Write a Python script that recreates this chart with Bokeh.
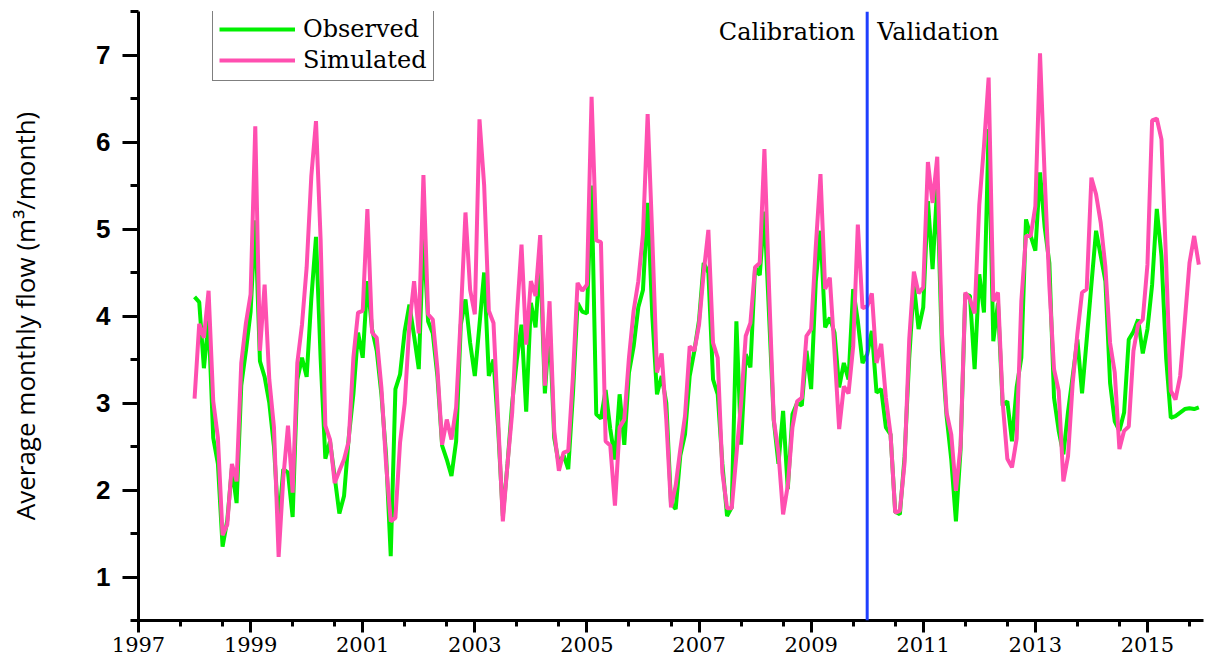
import numpy as np
from bokeh.plotting import figure
from bokeh.models import FixedTicker, Span, Label, Legend, LegendItem, Range1d
from bokeh.embed import file_html
from bokeh.resources import INLINE

# ---------------- data (monthly, Jan 1998 .. Dec 2015) ----------------
start_year = 1998

observed = [
    4.22, 4.16, 3.40, 3.95, 2.60, 2.30, 1.35, 1.65, 2.25, 1.85, 3.20, 3.60,  # 1998
    4.05, 5.10, 3.48, 3.30, 3.00, 2.50, 1.60, 2.24, 2.20, 1.69, 3.27, 3.52,  # 1999
    3.30, 4.20, 4.91, 3.50, 2.36, 2.56, 2.15, 1.73, 1.93, 2.60, 3.10, 3.81,  # 2000
    3.52, 4.40, 3.85, 3.60, 3.10, 2.40, 1.24, 3.16, 3.33, 3.83, 4.13, 3.77,  # 2001
    3.39, 4.95, 3.94, 3.80, 3.30, 2.51, 2.35, 2.16, 2.56, 3.90, 4.19, 3.69,  # 2002
    3.31, 3.90, 4.50, 3.31, 3.50, 2.70, 1.70, 2.30, 3.00, 3.50, 3.90, 2.90,  # 2003
    4.15, 3.87, 4.70, 3.11, 3.90, 2.60, 2.30, 2.40, 2.24, 3.10, 4.15, 4.05,  # 2004
    4.03, 5.50, 2.87, 2.82, 3.15, 2.70, 2.35, 3.10, 2.52, 3.35, 3.65, 4.10,  # 2005
    4.30, 5.30, 4.00, 3.10, 3.31, 3.00, 1.85, 1.78, 2.40, 2.64, 3.31, 3.60,  # 2006
    3.95, 4.61, 4.50, 3.27, 3.10, 2.30, 1.70, 1.80, 3.94, 2.52, 3.56, 3.41,  # 2007
    4.56, 4.47, 5.20, 4.00, 2.80, 2.30, 2.91, 2.01, 2.87, 3.00, 2.97, 3.60,  # 2008
    3.16, 4.40, 4.98, 3.87, 3.98, 3.81, 3.18, 3.46, 3.27, 4.31, 3.94, 3.46,  # 2009
    3.56, 3.83, 3.12, 3.16, 2.72, 2.64, 1.75, 1.72, 2.38, 3.52, 4.36, 3.85,  # 2010
    4.10, 5.32, 4.54, 5.50, 3.60, 2.85, 2.35, 1.64, 2.47, 4.25, 4.23, 3.39,  # 2011
    4.48, 4.04, 6.15, 3.71, 4.15, 2.97, 3.02, 2.56, 3.18, 3.52, 5.11, 4.92,  # 2012
    4.75, 5.65, 5.02, 4.61, 3.06, 2.68, 2.41, 2.90, 3.31, 3.73, 3.11, 3.73,  # 2013
    4.36, 4.98, 4.69, 4.40, 3.23, 2.79, 2.68, 2.89, 3.73, 3.82, 3.96, 3.57,  # 2014
    3.85, 4.36, 5.23, 4.69, 3.52, 2.83, 2.85, 2.89, 2.93, 2.94, 2.93, 2.95,  # 2015
]

simulated = [
    3.05, 3.91, 3.75, 4.29, 3.02, 2.60, 1.48, 1.60, 2.30, 2.10, 3.46, 3.92,  # 1998
    4.25, 6.18, 3.60, 4.36, 3.27, 2.72, 1.23, 2.14, 2.74, 1.97, 3.46, 3.90,  # 1999
    4.56, 5.61, 6.24, 4.86, 2.74, 2.58, 2.08, 2.22, 2.35, 2.56, 3.52, 4.04,  # 2000
    4.06, 5.23, 3.81, 3.75, 3.18, 2.30, 1.64, 1.68, 2.55, 3.00, 3.90, 4.40,  # 2001
    3.80, 5.62, 4.02, 3.96, 3.39, 2.52, 2.81, 2.58, 2.95, 4.00, 5.19, 4.30,  # 2002
    4.02, 6.26, 5.50, 4.06, 3.92, 2.80, 1.64, 2.30, 2.89, 4.00, 4.82, 3.67,  # 2003
    4.40, 4.23, 4.93, 3.20, 4.17, 2.68, 2.22, 2.43, 2.45, 3.30, 4.38, 4.29,  # 2004
    4.36, 6.52, 4.87, 4.85, 2.56, 2.51, 1.82, 2.72, 2.81, 3.52, 4.06, 4.40,  # 2005
    4.94, 6.32, 4.90, 3.35, 3.57, 2.80, 1.80, 2.05, 2.47, 2.85, 3.65, 3.60,  # 2006
    3.90, 4.50, 4.99, 3.69, 3.52, 2.20, 1.79, 1.79, 2.40, 3.00, 3.77, 3.92,  # 2007
    4.56, 4.61, 5.92, 4.30, 2.81, 2.43, 1.72, 2.05, 2.72, 3.02, 3.06, 3.77,  # 2008
    3.85, 4.80, 5.63, 4.31, 4.44, 3.60, 2.70, 3.19, 3.11, 3.65, 5.05, 4.09,  # 2009
    4.11, 4.26, 3.46, 3.68, 3.06, 2.64, 1.74, 1.76, 2.31, 3.73, 4.51, 4.26,  # 2010
    4.33, 5.77, 5.30, 5.83, 3.81, 2.89, 2.64, 1.99, 2.51, 4.27, 4.19, 4.03,  # 2011
    5.28, 5.95, 6.74, 4.17, 4.27, 3.01, 2.36, 2.26, 2.59, 4.17, 4.92, 4.92,  # 2012
    5.26, 7.02, 5.60, 4.35, 3.39, 3.14, 2.10, 2.39, 3.23, 3.80, 4.27, 4.31,  # 2013
    5.59, 5.40, 5.07, 4.56, 3.69, 3.35, 2.47, 2.68, 2.73, 3.60, 3.90, 3.96,  # 2014
    4.59, 6.25, 6.27, 6.03, 4.61, 3.14, 3.04, 3.31, 3.94, 4.61, 4.92, 4.59,  # 2015
]

x_major_ticks = [1997, 1999, 2001, 2003, 2005, 2007, 2009, 2011, 2013, 2015]
x_minor_ticks = [1997.75, 1998.5, 1999.75, 2000.5, 2001.75, 2002.5, 2003.75, 2004.5,
                 2005.75, 2006.5, 2007.75, 2008.5, 2009.75, 2010.5, 2011.75, 2012.5,
                 2013.75, 2014.5, 2015.75]
y_major_ticks = [1, 2, 3, 4, 5, 6, 7]
y_minor_ticks = [0.5, 1.5, 2.5, 3.5, 4.5, 5.5, 6.5, 7.5]
split_year = 2010
series_names = ["Observed", "Simulated"]
period_names = ["Calibration", "Validation"]
y_title = "Average monthly flow (m\u00b3/month)"

months = np.arange(len(observed))
x = start_year + months / 12.0

GREEN = "#00f000"
PINK = "#ff4fb0"
BLUE = "#1f3fff"

p = figure(width=1205, height=662,
           x_range=Range1d(1997, 2016), y_range=Range1d(0.5, 7.5),
           output_backend="svg", toolbar_location=None,
           min_border_left=138, min_border_right=2,
           min_border_top=11, min_border_bottom=42)
p.outline_line_color = None
p.background_fill_color = "white"
p.border_fill_color = "white"
p.xgrid.visible = False
p.ygrid.visible = False

g = p.line(x, observed, line_color=GREEN, line_width=4)
s = p.line(x, simulated, line_color=PINK, line_width=4)

p.add_layout(Span(location=split_year, dimension="height",
                  line_color=BLUE, line_width=3))

# axes
xa = p.xaxis[0]
xa.ticker = FixedTicker(ticks=x_major_ticks, minor_ticks=x_minor_ticks)
xa.axis_line_width = 3
xa.axis_line_color = "black"
xa.major_tick_line_width = 3
xa.minor_tick_line_width = 3
xa.major_tick_out = 12
xa.major_tick_in = 0
xa.minor_tick_out = 6
xa.minor_tick_in = 0
xa.major_label_text_font = "DejaVu Serif"
xa.major_label_text_font_size = "21px"
xa.major_label_text_color = "black"
xa.major_label_standoff = 4

ya = p.yaxis[0]
ya.ticker = FixedTicker(ticks=y_major_ticks, minor_ticks=y_minor_ticks)
ya.axis_line_width = 3
ya.axis_line_color = "black"
ya.major_tick_line_width = 3
ya.minor_tick_line_width = 3
ya.major_tick_out = 16
ya.major_tick_in = 0
ya.minor_tick_out = 8
ya.minor_tick_in = 0
ya.major_label_text_font = "Liberation Sans"
ya.major_label_text_font_size = "26px"
ya.major_label_text_font_style = "bold"
ya.major_label_text_color = "black"
ya.major_label_standoff = 12
ya.axis_label = y_title
ya.axis_label_text_font = "Open Sans"
ya.axis_label_text_font_size = "26px"
ya.axis_label_text_font_style = "normal"
ya.axis_label_text_color = "black"
ya.axis_label_standoff = 50

# period labels
p.add_layout(Label(x=split_year, y=7.27, x_offset=-12, text=period_names[0],
                   text_align="right", text_baseline="middle",
                   text_font="DejaVu Serif", text_font_size="24px",
                   text_color="black"))
p.add_layout(Label(x=split_year, y=7.27, x_offset=10, text=period_names[1],
                   text_align="left", text_baseline="middle",
                   text_font="DejaVu Serif", text_font_size="24px",
                   text_color="black"))

legend = Legend(items=[LegendItem(label=series_names[0], renderers=[g]),
                       LegendItem(label=series_names[1], renderers=[s])],
                location=(74, 539))
legend.border_line_color = "black"
legend.border_line_width = 1.5
legend.background_fill_color = "white"
legend.background_fill_alpha = 1.0
legend.label_text_font = "DejaVu Serif"
legend.label_text_font_size = "24px"
legend.label_text_color = "black"
legend.glyph_width = 76
legend.glyph_height = 28
legend.label_height = 28
legend.label_standoff = 8
legend.spacing = 3
legend.padding = 6
legend.margin = 0
p.add_layout(legend)

open("out.html", "w").write(file_html(p, INLINE))
